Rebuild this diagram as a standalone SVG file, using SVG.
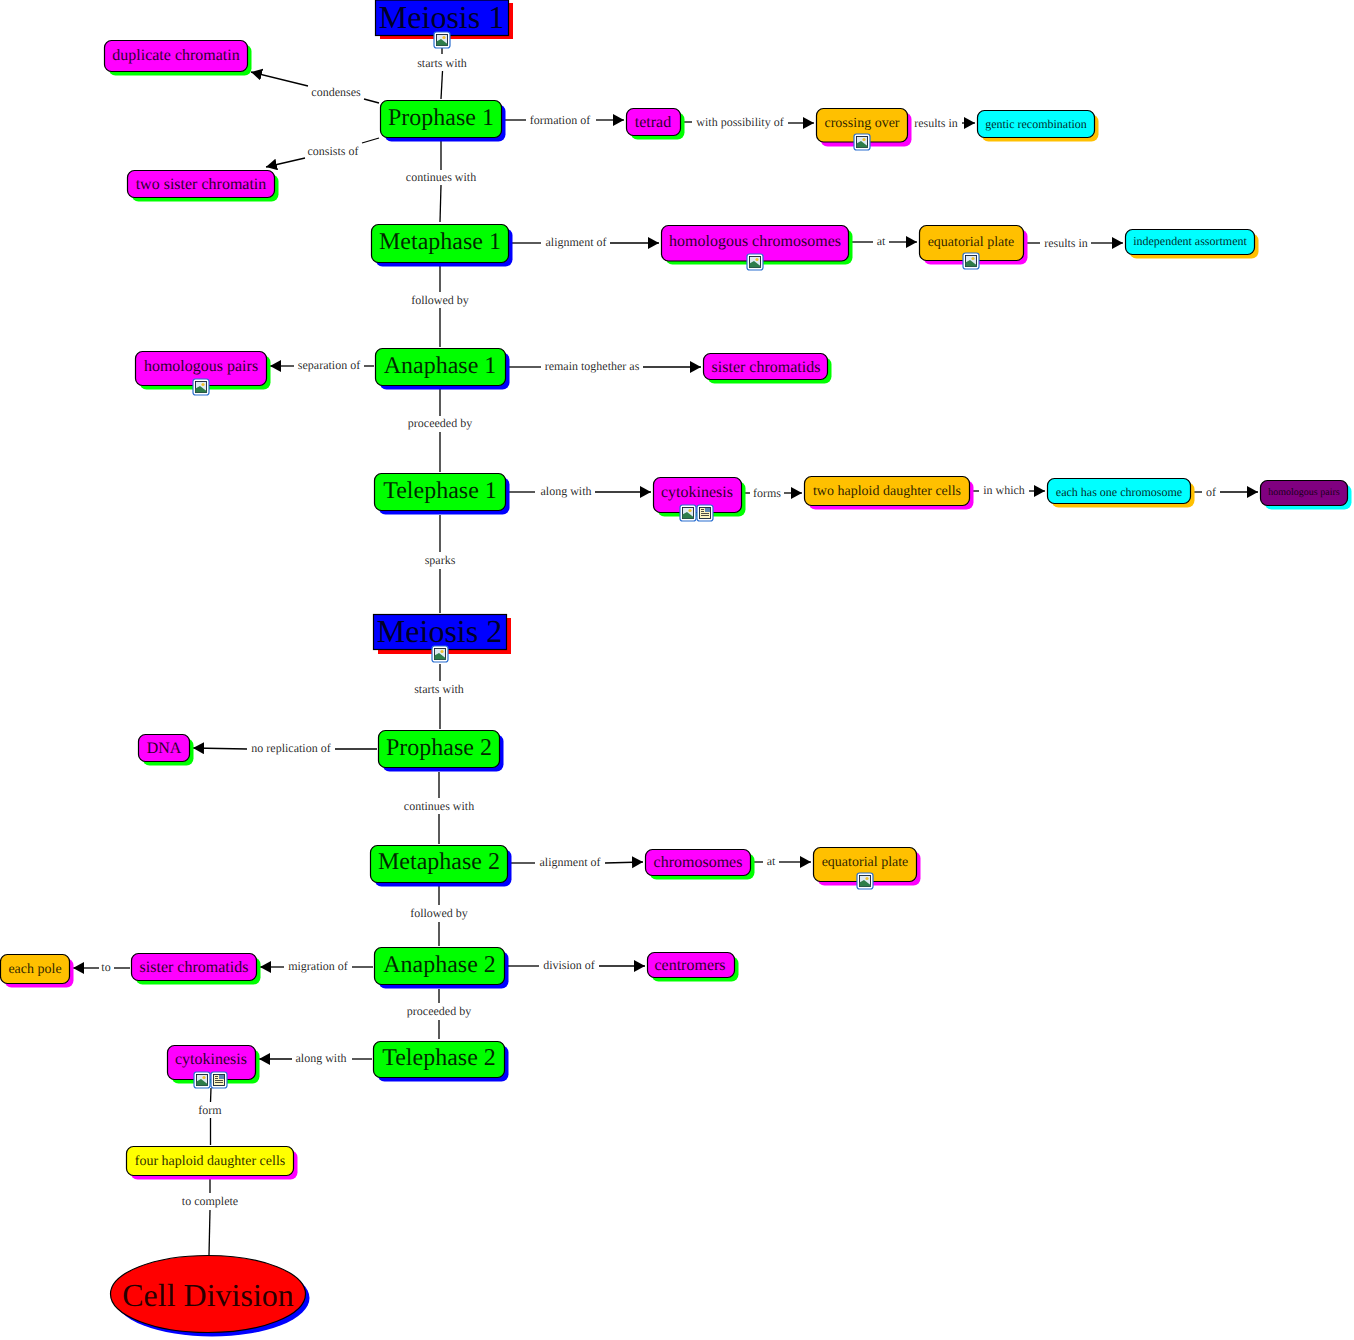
<svg xmlns="http://www.w3.org/2000/svg" width="1354" height="1340" viewBox="0 0 1354 1340">
<style>
text{font-family:"Liberation Serif","Times New Roman",serif;fill:#000;fill-opacity:.85;text-anchor:middle;text-rendering:geometricPrecision}
.l{font-size:12px}
.c line{stroke:#000;stroke-width:1.3}
.a{marker-end:url(#arrow)}
.n{stroke:#000;stroke-width:1.2}
.g{fill:#00ff00}.m{fill:#ff00ff}.o{fill:#ffc000}.y{fill:#00ffff}.b{fill:#0000ff}.r{fill:#ff0000}.p{fill:#800080}.w{fill:#ffff00}
</style>
<defs>
<marker id="arrow" markerUnits="userSpaceOnUse" markerWidth="12" markerHeight="13" refX="11" refY="6" orient="auto"><path d="M0 0L11 6L0 12Z" fill="#000"/></marker>
<g id="img"><rect x="-8" y="-8" width="16" height="16" rx="2.500" fill="#fff" stroke="#2a6fd0" stroke-width="1.200"/><rect x="-5.500" y="-5.500" width="11" height="11" fill="#dfeaf2" stroke="#123" stroke-width=".9"/><circle cx="2" cy="-2.500" r="1.600" fill="#f2c230"/><path d="M-5.500 5.500V1.500L-1-1L5.500 4V5.500Z" fill="#2e7d4a"/></g>
<g id="doc"><rect x="-8" y="-8" width="16" height="16" rx="2.500" fill="#fff" stroke="#2a6fd0" stroke-width="1.200"/><rect x="-5.500" y="-5.500" width="11" height="11" fill="#fbf4c0" stroke="#123" stroke-width=".9"/><rect x="0" y="-5" width="5" height="4" fill="#5b86b5"/><path d="M-4-3.500H-1M-4-1.500H-1M-4 .5H4M-4 2.500H4" stroke="#222" stroke-width=".8"/></g>
</defs>
<g id="connectors" class="c">
<line x1="442" y1="47" x2="442" y2="54"/><line x1="442.500" y1="71" x2="441" y2="99"/>
<line x1="379" y1="103" x2="364" y2="99"/><line class="a" x1="308" y1="86" x2="251" y2="72"/>
<line x1="379" y1="138" x2="362" y2="143"/><line class="a" x1="305" y1="158" x2="266" y2="167"/>
<line x1="441" y1="141" x2="441" y2="170"/><line x1="441" y1="185" x2="440" y2="222"/>
<line x1="505" y1="120" x2="526" y2="120"/><line class="a" x1="596" y1="120" x2="624" y2="120"/>
<line x1="683" y1="122" x2="692" y2="122"/><line class="a" x1="788" y1="123" x2="814" y2="123"/>
<line x1="908" y1="123" x2="911" y2="123"/><line class="a" x1="962" y1="123" x2="975" y2="123"/>
<line x1="512" y1="243" x2="541" y2="243"/><line class="a" x1="610" y1="243" x2="659" y2="243"/>
<line x1="852" y1="242" x2="873" y2="242"/><line class="a" x1="889" y1="242" x2="917" y2="242"/>
<line x1="1027" y1="243" x2="1040" y2="243"/><line class="a" x1="1091" y1="243" x2="1123" y2="243"/>
<line x1="440" y1="265" x2="440" y2="292"/><line x1="440" y1="308" x2="440" y2="347"/>
<line x1="374" y1="366" x2="364" y2="366"/><line class="a" x1="294" y1="366" x2="270" y2="366"/>
<line x1="509" y1="367" x2="541" y2="367"/><line class="a" x1="643" y1="367" x2="701" y2="367"/>
<line x1="440" y1="388" x2="440" y2="416"/><line x1="440" y1="432" x2="440" y2="472"/>
<line x1="509" y1="492" x2="535" y2="492"/><line class="a" x1="595" y1="492" x2="651" y2="492"/>
<line x1="745" y1="493" x2="750" y2="493"/><line class="a" x1="784" y1="493" x2="802" y2="493"/>
<line x1="973" y1="491" x2="979" y2="491"/><line class="a" x1="1029" y1="491" x2="1045" y2="491"/>
<line x1="1194" y1="492" x2="1202" y2="492"/><line class="a" x1="1220" y1="492" x2="1258" y2="492"/>
<line x1="440" y1="515" x2="440" y2="552"/><line x1="440" y1="569" x2="440" y2="613"/>
<line x1="440" y1="664" x2="440" y2="681"/><line x1="440" y1="697" x2="440" y2="729"/>
<line x1="377" y1="749" x2="335" y2="749"/><line class="a" x1="247" y1="749" x2="193" y2="748"/>
<line x1="439" y1="772" x2="439" y2="798"/><line x1="439" y1="814" x2="439" y2="844"/>
<line x1="511" y1="863" x2="535" y2="863"/><line class="a" x1="605" y1="863" x2="643" y2="862"/>
<line x1="754" y1="862" x2="763" y2="862"/><line class="a" x1="779" y1="862" x2="811" y2="862"/>
<line x1="439" y1="886" x2="439" y2="905"/><line x1="439" y1="922" x2="439" y2="946"/>
<line x1="508" y1="966" x2="539" y2="966"/><line class="a" x1="599" y1="966" x2="645" y2="966"/>
<line x1="373" y1="967" x2="352" y2="967"/><line class="a" x1="284" y1="967" x2="260" y2="967"/>
<line x1="130" y1="968" x2="114" y2="968"/><line class="a" x1="99" y1="968" x2="73" y2="968"/>
<line x1="439" y1="989" x2="439" y2="1003"/><line x1="439" y1="1020" x2="439" y2="1039"/>
<line x1="372" y1="1059" x2="352" y2="1059"/><line class="a" x1="292" y1="1059" x2="259" y2="1059"/>
<line x1="211" y1="1088" x2="210.500" y2="1102"/><line x1="210.500" y1="1118" x2="210.500" y2="1145"/>
<line x1="210" y1="1179" x2="210" y2="1193"/><line x1="210" y1="1210" x2="209" y2="1255"/>
</g>
<g id="labels">
<text class="l" x="442" y="67">starts with</text>
<text class="l" x="336" y="96">condenses</text>
<text class="l" x="333" y="155">consists of</text>
<text class="l" x="441" y="181">continues with</text>
<text class="l" x="560" y="124">formation of</text>
<text class="l" x="740" y="126">with possibility of</text>
<text class="l" x="936" y="127">results in</text>
<text class="l" x="576" y="246">alignment of</text>
<text class="l" x="881" y="245">at</text>
<text class="l" x="1066" y="247">results in</text>
<text class="l" x="440" y="304">followed by</text>
<text class="l" x="329" y="369">separation of</text>
<text class="l" x="592" y="370">remain toghether as</text>
<text class="l" x="440" y="427">proceeded by</text>
<text class="l" x="566" y="495">along with</text>
<text class="l" x="767" y="497">forms</text>
<text class="l" x="1004" y="494">in which</text>
<text class="l" x="1211" y="496">of</text>
<text class="l" x="440" y="564">sparks</text>
<text class="l" x="439" y="693">starts with</text>
<text class="l" x="291" y="752">no replication of</text>
<text class="l" x="439" y="810">continues with</text>
<text class="l" x="570" y="866">alignment of</text>
<text class="l" x="771" y="865">at</text>
<text class="l" x="439" y="917">followed by</text>
<text class="l" x="569" y="969">division of</text>
<text class="l" x="318" y="970">migration of</text>
<text class="l" x="106" y="971">to</text>
<text class="l" x="439" y="1015">proceeded by</text>
<text class="l" x="321" y="1062">along with</text>
<text class="l" x="210" y="1114">form</text>
<text class="l" x="210" y="1205">to complete</text>
</g>
<g id="meiosis1"><rect class="r" x="380" y="3" width="133" height="36"/><rect class="b n" x="375.500" y="0" width="133" height="35.500"/><text x="441.500" y="28" font-size="32">Meiosis 1</text><use href="#img" x="442" y="40"/></g>
<g id="prophase1"><rect class="b" x="384.500" y="104.500" width="121" height="37" rx="7"/><rect class="g n" x="380.500" y="100.500" width="121" height="37" rx="7"/><text x="441" y="125" font-size="24">Prophase 1</text></g>
<g id="dupchromatin"><rect class="g" x="108.500" y="44.500" width="143" height="31" rx="7"/><rect class="m n" x="104.500" y="40.500" width="143" height="31" rx="7"/><text x="176" y="60" font-size="16">duplicate chromatin</text></g>
<g id="twosister"><rect class="g" x="131.500" y="174.500" width="147" height="27" rx="7"/><rect class="m n" x="127.500" y="170.500" width="147" height="27" rx="7"/><text x="201" y="189" font-size="16">two sister chromatin</text></g>
<g id="tetrad"><rect class="g" x="630.500" y="112.500" width="54" height="27" rx="7"/><rect class="m n" x="626.500" y="108.500" width="54" height="27" rx="7"/><text x="653" y="127" font-size="16">tetrad</text></g>
<g id="crossing"><rect class="m" x="820.500" y="112.500" width="91" height="34" rx="7"/><rect class="o n" x="816.500" y="108.500" width="91" height="33.500" rx="7"/><text x="862" y="127" font-size="14">crossing over</text><use href="#img" x="862" y="142"/></g>
<g id="gentic"><rect class="o" x="981.500" y="114.500" width="117" height="27" rx="7"/><rect class="y n" x="977.500" y="110.500" width="117" height="27" rx="7"/><text x="1036" y="128" font-size="12">gentic recombination</text></g>
<g id="metaphase1"><rect class="b" x="375.500" y="228.500" width="137" height="38" rx="7"/><rect class="g n" x="371.500" y="224.500" width="137" height="38" rx="7"/><text x="440" y="249" font-size="24">Metaphase 1</text></g>
<g id="homchrom"><rect class="g" x="665.500" y="229.500" width="187" height="35" rx="7"/><rect class="m n" x="661.500" y="225.500" width="187" height="35.500" rx="7"/><text x="755" y="246" font-size="16">homologous chromosomes</text><use href="#img" x="755" y="262"/></g>
<g id="equat1"><rect class="m" x="923.500" y="229.500" width="104" height="35" rx="7"/><rect class="o n" x="919.500" y="225.500" width="104" height="35" rx="7"/><text x="971" y="246" font-size="14">equatorial plate</text><use href="#img" x="971" y="261"/></g>
<g id="indep"><rect class="o" x="1129.500" y="233.500" width="129" height="25" rx="7"/><rect class="y n" x="1125.500" y="229.500" width="129" height="25" rx="7"/><text x="1190" y="245" font-size="12">independent assortment</text></g>
<g id="anaphase1"><rect class="b" x="379.500" y="352.500" width="130" height="37" rx="7"/><rect class="g n" x="375.500" y="348.500" width="130" height="37" rx="7"/><text x="440" y="373" font-size="24">Anaphase 1</text></g>
<g id="hompairs1"><rect class="g" x="139.500" y="355.500" width="131" height="34" rx="7"/><rect class="m n" x="135.500" y="351.500" width="131" height="34" rx="7"/><text x="201" y="371" font-size="16">homologous pairs</text><use href="#img" x="201" y="387"/></g>
<g id="sister1"><rect class="g" x="707.500" y="357.500" width="124" height="26" rx="7"/><rect class="m n" x="703.500" y="353.500" width="124" height="26" rx="7"/><text x="766" y="372" font-size="16">sister chromatids</text></g>
<g id="telephase1"><rect class="b" x="378.500" y="477.500" width="131" height="37" rx="7"/><rect class="g n" x="374.500" y="473.500" width="131" height="37" rx="7"/><text x="440" y="498" font-size="24">Telephase 1</text></g>
<g id="cyto1"><rect class="g" x="657.500" y="481.500" width="88" height="35" rx="7"/><rect class="m n" x="653.500" y="477.500" width="88" height="35" rx="7"/><text x="697" y="497" font-size="16">cytokinesis</text><use href="#img" x="688" y="513"/><use href="#doc" x="705" y="513"/></g>
<g id="twohap"><rect class="m" x="808.500" y="480.500" width="165" height="29" rx="7"/><rect class="o n" x="804.500" y="476.500" width="165" height="29" rx="7"/><text x="887" y="495" font-size="14">two haploid daughter cells</text></g>
<g id="eachhas"><rect class="o" x="1051.500" y="482.500" width="143" height="25" rx="7"/><rect class="y n" x="1047.500" y="478.500" width="143" height="25" rx="7"/><text x="1119" y="496" font-size="12">each has one chromosome</text></g>
<g id="hompairs2"><rect class="y" x="1264.500" y="484.500" width="87" height="25" rx="7"/><rect class="p n" x="1260.500" y="480.500" width="87" height="25" rx="7"/><text x="1304" y="495" font-size="10">homologous pairs</text></g>
<g id="meiosis2"><rect class="r" x="378" y="618" width="133" height="36"/><rect class="b n" x="373.500" y="614.500" width="133" height="35"/><text x="439.500" y="642" font-size="32">Meiosis 2</text><use href="#img" x="440" y="654"/></g>
<g id="prophase2"><rect class="b" x="382.500" y="734.500" width="121" height="37" rx="7"/><rect class="g n" x="378.500" y="730.500" width="121" height="37" rx="7"/><text x="439" y="755" font-size="24">Prophase 2</text></g>
<g id="dna"><rect class="g" x="142.500" y="738.500" width="51" height="27" rx="7"/><rect class="m n" x="138.500" y="734.500" width="51" height="27" rx="7"/><text x="164" y="753" font-size="16">DNA</text></g>
<g id="metaphase2"><rect class="b" x="374.500" y="849.500" width="137" height="37" rx="7"/><rect class="g n" x="370.500" y="845.500" width="137" height="37" rx="7"/><text x="439" y="869" font-size="24">Metaphase 2</text></g>
<g id="chromosomes"><rect class="g" x="649.500" y="853.500" width="105" height="26" rx="7"/><rect class="m n" x="645.500" y="849.500" width="105" height="26" rx="7"/><text x="698" y="867" font-size="16">chromosomes</text></g>
<g id="equat2"><rect class="m" x="817.500" y="851.500" width="103" height="34" rx="7"/><rect class="o n" x="813.500" y="847.500" width="103" height="34" rx="7"/><text x="865" y="866" font-size="14">equatorial plate</text><use href="#img" x="865" y="881"/></g>
<g id="anaphase2"><rect class="b" x="378.500" y="951.500" width="130" height="37" rx="7"/><rect class="g n" x="374.500" y="947.500" width="130" height="37" rx="7"/><text x="439.500" y="972" font-size="24">Anaphase 2</text></g>
<g id="centromers"><rect class="g" x="651.500" y="956.500" width="87" height="25" rx="7"/><rect class="m n" x="647.500" y="952.500" width="87" height="25" rx="7"/><text x="690" y="970" font-size="16">centromers</text></g>
<g id="sister2"><rect class="g" x="135.500" y="957.500" width="125" height="27" rx="7"/><rect class="m n" x="131.500" y="953.500" width="125" height="27" rx="7"/><text x="194" y="972" font-size="16">sister chromatids</text></g>
<g id="eachpole"><rect class="m" x="4.500" y="958.500" width="69" height="29" rx="7"/><rect class="o n" x="0.500" y="954.500" width="69" height="29" rx="7"/><text x="35" y="973" font-size="14">each pole</text></g>
<g id="telephase2"><rect class="b" x="377.500" y="1045.500" width="131" height="36" rx="7"/><rect class="g n" x="373.500" y="1041.500" width="131" height="36" rx="7"/><text x="439" y="1065" font-size="24">Telephase 2</text></g>
<g id="cyto2"><rect class="g" x="171.500" y="1049.500" width="88" height="34" rx="7"/><rect class="m n" x="167.500" y="1045.500" width="88" height="34" rx="7"/><text x="211" y="1064" font-size="16">cytokinesis</text><use href="#img" x="202" y="1080"/><use href="#doc" x="219" y="1080"/></g>
<g id="fourhap"><rect class="m" x="130.500" y="1150.500" width="167" height="29" rx="7"/><rect class="w n" x="126.500" y="1146.500" width="167" height="29" rx="7"/><text x="210" y="1165" font-size="14">four haploid daughter cells</text></g>
<g id="celldiv"><ellipse class="b" cx="212" cy="1298" rx="97.500" ry="38.500"/><ellipse class="r n" cx="208" cy="1294" rx="97.500" ry="38.500"/><text x="208" y="1306" font-size="32">Cell Division</text></g>
</svg>
